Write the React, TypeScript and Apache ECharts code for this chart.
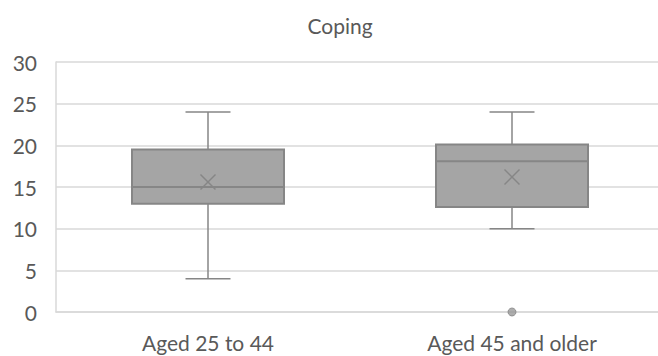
import React, { useEffect, useRef } from "react";
import * as echarts from "echarts";

// Box-plot statistics per age group
const categories = ["Aged 25 to 44", "Aged 45 and older"];
const minValues = [4, 10];
const q1Values = [13, 12.6];
const medianValues = [15, 18.1];
const q3Values = [19.5, 20.1];
const maxValues = [24, 24];
const meanValues = [15.6, 16.2];
const outlierPoints: [number, number][] = [[1, 0]];
const yTicks = [0, 5, 10, 15, 20, 25, 30];

const FONT = "Lato, 'Noto Sans', sans-serif";
const TEXT = "#595959";
const GRID = "#d9d9d9";
const BOX_FILL = "#a5a5a5";
const BOX_LINE = "#868686";

export default function App() {
  const ref = useRef<HTMLDivElement>(null);

  useEffect(() => {
    if (!ref.current) return;
    const chart = echarts.init(ref.current, undefined, { renderer: "svg" });

    const boxData = categories.map((_, i) => [
      i,
      minValues[i],
      q1Values[i],
      medianValues[i],
      q3Values[i],
      maxValues[i],
      meanValues[i],
    ]);

    const renderItem = (_params: any, api: any) => {
      const idx = api.value(0);
      const band = api.size([1, 0])[0];
      const half = band * 0.25;
      const capHalf = band * 0.074;
      const pMin = api.coord([idx, api.value(1)]);
      const pQ1 = api.coord([idx, api.value(2)]);
      const pMed = api.coord([idx, api.value(3)]);
      const pQ3 = api.coord([idx, api.value(4)]);
      const pMax = api.coord([idx, api.value(5)]);
      const pMean = api.coord([idx, api.value(6)]);
      const cx = pMed[0];
      const lineStyle = { stroke: BOX_LINE, lineWidth: 1.5, fill: null };
      const m = 7.5;
      return {
        type: "group",
        children: [
          { type: "line", shape: { x1: cx, y1: pMax[1], x2: cx, y2: pQ3[1] }, style: lineStyle },
          { type: "line", shape: { x1: cx, y1: pQ1[1], x2: cx, y2: pMin[1] }, style: lineStyle },
          { type: "line", shape: { x1: cx - capHalf, y1: pMax[1], x2: cx + capHalf, y2: pMax[1] }, style: lineStyle },
          { type: "line", shape: { x1: cx - capHalf, y1: pMin[1], x2: cx + capHalf, y2: pMin[1] }, style: lineStyle },
          {
            type: "rect",
            shape: { x: cx - half, y: pQ3[1], width: half * 2, height: pQ1[1] - pQ3[1] },
            style: { fill: BOX_FILL, stroke: BOX_LINE, lineWidth: 2 },
          },
          { type: "line", shape: { x1: cx - half, y1: pMed[1], x2: cx + half, y2: pMed[1] }, style: { ...lineStyle, lineWidth: 2 } },
          { type: "line", shape: { x1: cx - m, y1: pMean[1] - m, x2: cx + m, y2: pMean[1] + m }, style: lineStyle },
          { type: "line", shape: { x1: cx - m, y1: pMean[1] + m, x2: cx + m, y2: pMean[1] - m }, style: lineStyle },
        ],
      };
    };

    chart.setOption({
      animation: false,
      graphic: [
        {
          type: "text",
          x: 340,
          y: 25,
          style: {
            text: "Coping",
            fontFamily: FONT,
            fontSize: 21,
            fill: TEXT,
            textAlign: "center",
            textVerticalAlign: "middle",
          },
        },
      ],
      // the plot area runs a few pixels past the visible right edge
      grid: { left: 56, right: 0, top: 62, bottom: 44 },
      xAxis: {
        type: "category",
        data: categories,
        boundaryGap: true,
        axisTick: { show: false },
        axisLine: { lineStyle: { color: GRID, width: 1.5 } },
        axisLabel: { fontFamily: FONT, fontSize: 21, color: TEXT, margin: 20 },
        splitLine: { show: false },
      },
      yAxis: {
        type: "value",
        min: yTicks[0],
        max: yTicks[yTicks.length - 1],
        interval: 5,
        axisLine: { show: true, lineStyle: { color: GRID, width: 1.5 } },
        axisTick: { show: false },
        axisLabel: { fontFamily: FONT, fontSize: 21, color: TEXT, margin: 19 },
        splitLine: { lineStyle: { color: GRID, width: 1.5 } },
      },
      series: [
        {
          type: "custom",
          renderItem,
          data: boxData,
          encode: { x: 0, y: [1, 2, 3, 4, 5, 6] },
          z: 3,
        },
        {
          type: "scatter",
          data: outlierPoints,
          symbol: "circle",
          symbolSize: 8,
          itemStyle: { color: "#999999", borderColor: BOX_LINE, borderWidth: 1 },
          z: 4,
        },
      ],
    });

    return () => chart.dispose();
  }, []);

  return (
    <div
      style={{ position: "fixed", left: 0, top: 0, width: 658, height: 356, overflow: "hidden", background: "#fff" }}
    >
      <div ref={ref} style={{ width: 664, height: 356 }} />
    </div>
  );
}
